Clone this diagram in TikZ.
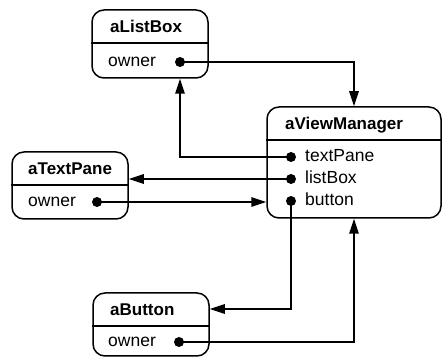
\documentclass[tikz,border=0pt]{standalone}
\usepackage{fontspec}
\setmainfont{Liberation Sans}
\usetikzlibrary{arrows.meta}
\tikzset{
  objbox/.style={draw, line width=1.5pt, rounded corners=12pt, inner sep=0pt},
  divider/.style={line width=1.5pt},
  titletext/.style={anchor=base west, inner sep=0pt, font=\fontsize{17}{20}\selectfont\bfseries},
  fieldtext/.style={anchor=base west, inner sep=0pt, font=\fontsize{17.5}{20}\selectfont},
  refdot/.style={circle, fill, inner sep=0pt, minimum size=10pt},
  conn/.style={line width=1.5pt},
  arr/.style={conn, -{Triangle[length=15pt,width=9.5pt]}},
}
\begin{document}
\begin{tikzpicture}[x=1pt,y=-1pt]
\useasboundingbox (0,0) rectangle (448,358);
% aListBox
\node[objbox, minimum width=116pt, minimum height=68pt] (lb) at (150,44) {};
\draw[divider] (lb.west |- 0,43) -- (lb.east |- 0,43);
\node[titletext] (lbt) at (110,33) {aListBox};
\node[fieldtext] (lbf) at (108,67) {owner};
\node[refdot] (lbo) at (180,62) {};
% aViewManager
\node[objbox, minimum width=174pt, minimum height=111pt] (vm) at (354,162.5) {};
\draw[divider] (vm.west |- 0,140) -- (vm.east |- 0,140);
\node[titletext] (vmt) at (285,129.5) {aViewManager};
\node[fieldtext] (vmf1) at (305,162) {textPane};
\node[fieldtext] (vmf2) at (305,184) {listBox};
\node[fieldtext] (vmf3) at (305,206) {button};
\node[refdot] (vmtp) at (291,157) {};
\node[refdot] (vmlb) at (291,179) {};
\node[refdot] (vmbt) at (291,201) {};
% aTextPane
\node[objbox, minimum width=116pt, minimum height=67pt] (tp) at (70,185.5) {};
\draw[divider] (tp.west |- 0,185) -- (tp.east |- 0,185);
\node[titletext] (tpt) at (28,175) {aTextPane};
\node[fieldtext] (tpf) at (28,207) {owner};
\node[refdot] (tpo) at (97,202) {};
% aButton
\node[objbox, minimum width=116pt, minimum height=63pt] (ab) at (151,324.5) {};
\draw[divider] (ab.west |- 0,326) -- (ab.east |- 0,326);
\coordinate (abhead) at (ab.east |- 0,309);
\node[titletext] (abt) at (110,315.5) {aButton};
\node[fieldtext] (abf) at (108,347) {owner};
\node[refdot] (abo) at (179,342) {};
% connectors
\draw[arr] (lbo.center) -| (vm.north);
\draw[arr] (vmtp.center) -| (lbo |- lb.south);
\draw[arr] (vmlb.center) -- (vmlb -| tp.east);
\draw[arr] (tpo.center) -- (tpo -| vm.west);
\draw[arr] (vmbt.center) |- (abhead);
\draw[arr] (abo.center) -| (vm.south);
\end{tikzpicture}
\end{document}
